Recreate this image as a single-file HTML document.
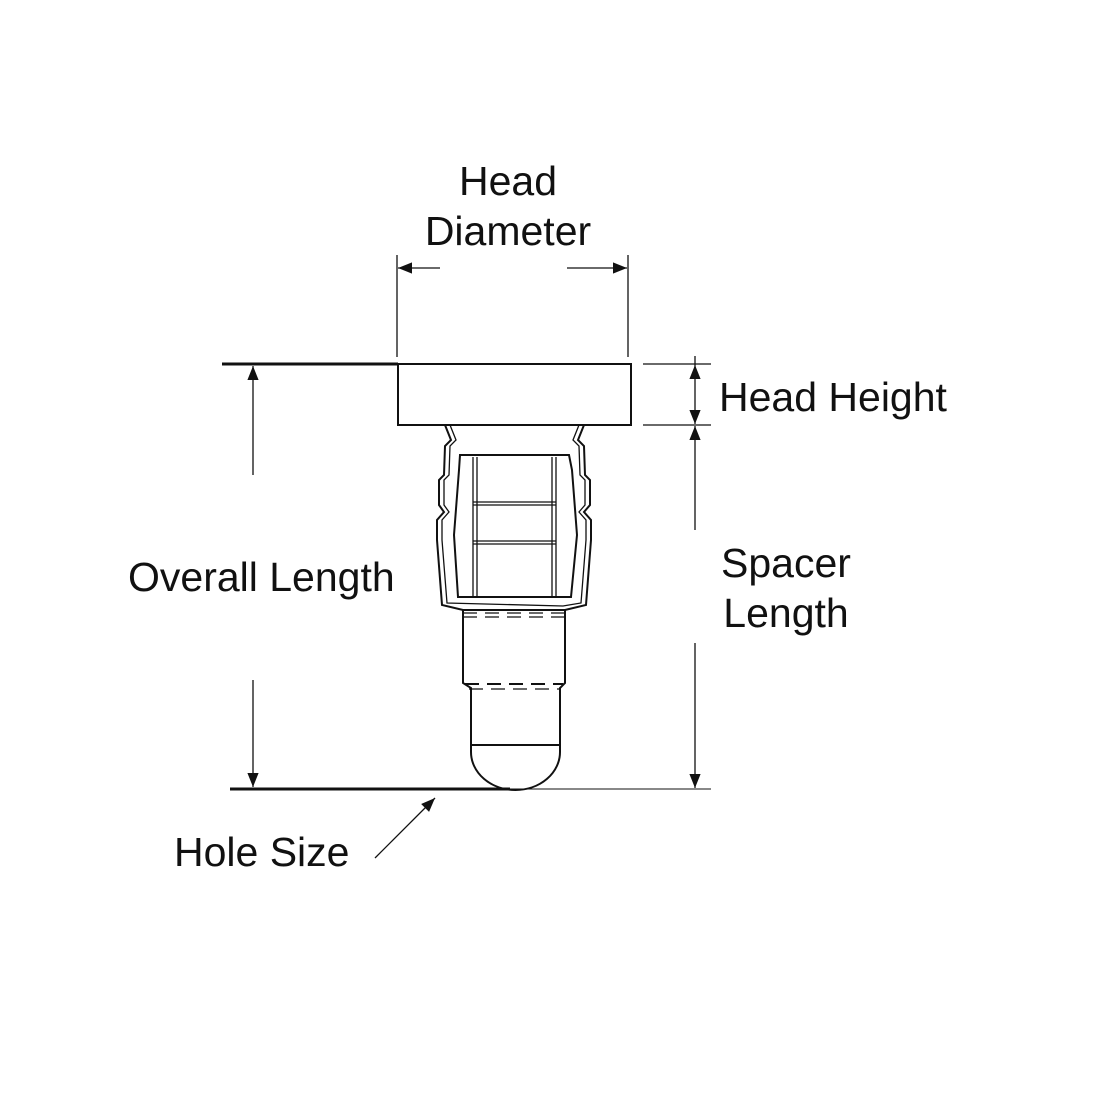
<!DOCTYPE html>
<html><head><style>
body{margin:0;background:#fff;}
svg{display:block}
text{font-family:"Liberation Sans",sans-serif;font-size:41px;fill:#111}
</style></head><body>
<svg width="1100" height="1100" viewBox="0 0 1100 1100">
<defs>
<marker id="b" viewBox="0 0 10 10" refX="10" refY="5" markerWidth="18" markerHeight="14" markerUnits="userSpaceOnUse" orient="auto"><path d="M0,1 L10,5 L0,9z" fill="#111"/></marker>
</defs>
<g stroke="#111" fill="none" stroke-width="1.3">
<line x1="397" y1="255" x2="397" y2="357"/>
<line x1="628" y1="255" x2="628" y2="357"/>
<line x1="440" y1="268" x2="398" y2="268" marker-end="url(#b)"/>
<line x1="567" y1="268" x2="627" y2="268" marker-end="url(#b)"/>
<line x1="643" y1="364" x2="711" y2="364"/>
<line x1="643" y1="425" x2="711" y2="425"/>
<line x1="695" y1="356" x2="695" y2="365"/>
<line x1="695" y1="394" x2="695" y2="365" marker-end="url(#b)"/>
<line x1="695" y1="394" x2="695" y2="424" marker-end="url(#b)"/>
<line x1="695" y1="530" x2="695" y2="426" marker-end="url(#b)"/>
<line x1="695" y1="643" x2="695" y2="788" marker-end="url(#b)"/>
<line x1="510" y1="789" x2="711" y2="789" stroke-width="1"/>
<line x1="222" y1="364" x2="398" y2="364" stroke-width="3"/>
<line x1="230" y1="789" x2="510" y2="789" stroke-width="3"/>
<line x1="253" y1="475" x2="253" y2="366" marker-end="url(#b)"/>
<line x1="253" y1="680" x2="253" y2="787" marker-end="url(#b)"/>
<line x1="375" y1="858" x2="435" y2="798" marker-end="url(#b)"/>
<rect x="398" y="364" width="233" height="61" stroke-width="2"/>
<path d="M445,425 L451,440 L445,446 L444,475 L439,480 L439,505 L444,512 L437,520 L437,540 L442,605 L463,610 L565,610 L586,605 L591,540 L591,520 L584,512 L590,505 L590,480 L585,475 L584,446 L578,440 L584,425" stroke-width="2"/>
<path d="M450,425 L456,440 L450,446 L449,475 L444,480 L444,505 L449,512 L442,520 L442,540 L447,603 L563,606 L581,603 L586,540 L586,520 L579,512 L585,505 L585,480 L580,475 L579,446 L573,440 L579,425"/>
<path d="M460,455 L569,455 L572,470 L577,535 L571,597 L458,597 L454,535 L459,470 Z" stroke-width="2"/>
<line x1="473" y1="457" x2="473" y2="597"/><line x1="477" y1="457" x2="477" y2="597"/>
<line x1="552" y1="457" x2="552" y2="597"/><line x1="556" y1="457" x2="556" y2="597"/>
<line x1="473" y1="502" x2="556" y2="502"/><line x1="473" y1="505" x2="556" y2="505"/>
<line x1="473" y1="541" x2="556" y2="541"/><line x1="473" y1="544" x2="556" y2="544"/>
<line x1="463" y1="613" x2="565" y2="613" stroke-dasharray="14,8"/>
<line x1="463" y1="617" x2="565" y2="617" stroke-dasharray="14,8"/>
<path d="M463,610 L463,683 L471,688 L471,745 L560,745 L560,688 L565,683 L565,610" stroke-width="2"/>
<line x1="465" y1="684" x2="563" y2="684" stroke-dasharray="14,8" stroke-width="2"/>
<line x1="469" y1="689" x2="561" y2="689" stroke-dasharray="14,8"/>
<path d="M471,745 L471,752 A44.5,38 0 0 0 560,752 L560,745" stroke-width="2"/>
</g>
<text x="508" y="195" text-anchor="middle">Head</text>
<text x="508" y="245" text-anchor="middle">Diameter</text>
<text x="719" y="411">Head Height</text>
<text x="128" y="591">Overall Length</text>
<text x="786" y="577" text-anchor="middle">Spacer</text>
<text x="786" y="627" text-anchor="middle">Length</text>
<text x="174" y="866">Hole Size</text>
</svg>
</body></html>
